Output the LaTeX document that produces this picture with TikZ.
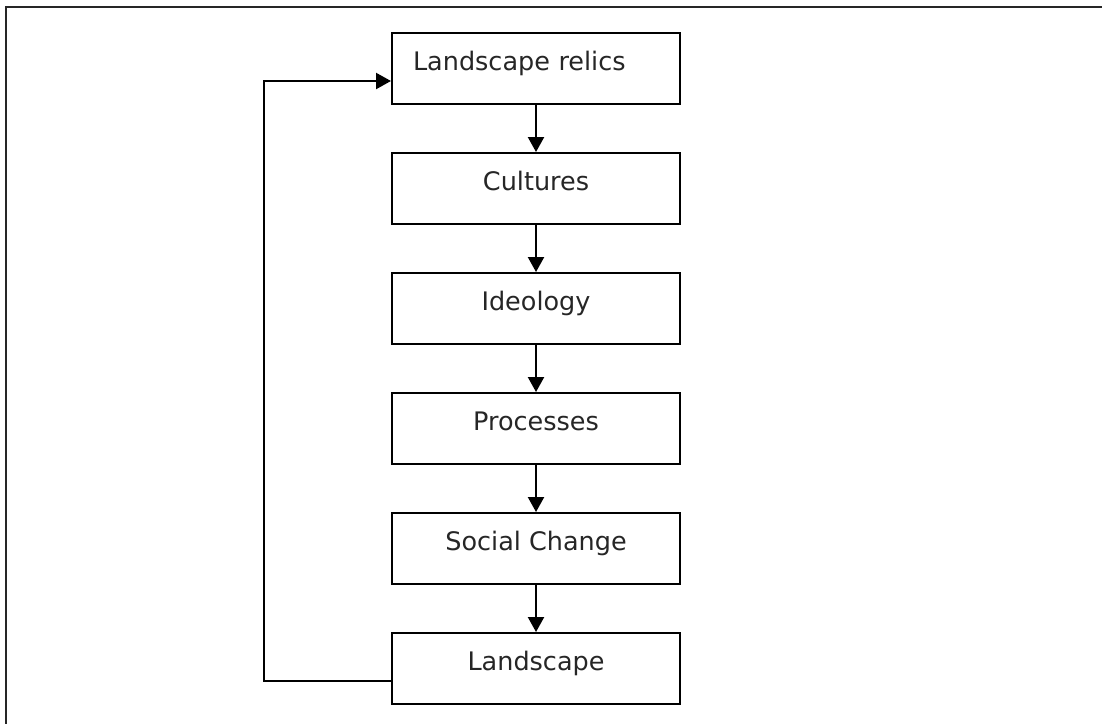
\documentclass[tikz,border=0pt]{standalone}
\usepackage{fontspec}
\setmainfont{DejaVu Sans}
\usetikzlibrary{arrows.meta,positioning}
\tikzset{
  box/.style={draw=black, line width=2pt, minimum width=288pt, minimum height=71pt,
    inner xsep=0pt, inner ysep=0pt, text height=37pt, text depth=34pt,
    font=\fontsize{25.5pt}{30pt}\selectfont, text=black!85, fill=white},
  flow/.style={line width=2.2pt, -{Triangle[width=16pt,length=15pt]}},
  frame/.style={line width=2.6pt, draw=black!85}
}
\begin{document}
\begin{tikzpicture}[x=1pt,y=-1pt]
\useasboundingbox (0,0) rectangle (1102,724);
\draw[frame] (1102,7) -- (6,7) -- (6,724);
\node[box, text width=246pt, inner xsep=21pt, align=left] (b1) at (536,68.5) {Landscape relics};
\node[box, below=47pt of b1] (b2) {Cultures};
\node[box, below=47pt of b2] (b3) {Ideology};
\node[box, below=47pt of b3] (b4) {Processes};
\node[box, below=47pt of b4] (b5) {Social Change};
\node[box, below=47pt of b5] (b6) {Landscape};
\draw[flow] (b1) -- (b2);
\draw[flow] (b2) -- (b3);
\draw[flow] (b3) -- (b4);
\draw[flow] (b4) -- (b5);
\draw[flow] (b5) -- (b6);
\coordinate (loop) at (264,400);
\draw[flow] ([yshift=-12.5pt]b6.west) -| (loop) |- ([yshift=-12.5pt]b1.west);
\end{tikzpicture}
\end{document}
